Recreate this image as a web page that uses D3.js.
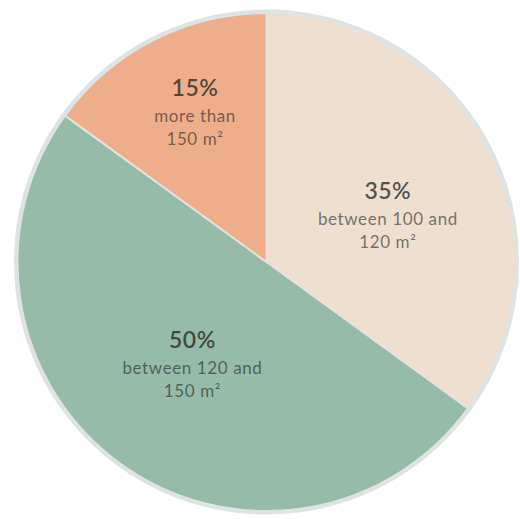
<!DOCTYPE html>
<html>
<head>
<meta charset="utf-8">
<script src="https://cdn.jsdelivr.net/npm/d3@7"></script>
<style>
  body { margin: 0; background: #fff; }
  svg { display: block; }
</style>
</head>
<body>
<svg width="520" height="519"></svg>
<script>
// data
const shares = [35, 50, 15];
const percentLabels = ['35%', '50%', '15%'];
const subLabels = [
  ['between 100 and', '120 m²'],
  ['between 120 and', '150 m²'],
  ['more than', '150 m²']
];
const colors = ['#eedfcf', '#96bba8', '#efae8b'];

const svg = d3.select('svg');
const cx = 266.5, cy = 262, radius = 249;

// where each label sits (radius from centre, angle shift in degrees, extra y)
const labelPlace = [{r: 130, da: 6, dy: 4}, {r: 126, da: 0, dy: 4}, {r: 163, da: 1, dy: 1}];

const pie = d3.pie().sort(null).value(d => d);
const arcs = pie(shares);
const arc = d3.arc().innerRadius(0).outerRadius(radius);

const g = svg.append('g').attr('transform', `translate(${cx},${cy})`);

// outer ring
g.append('circle')
  .attr('r', radius + 1)
  .attr('fill', 'none')
  .attr('stroke', '#dde3e3')
  .attr('stroke-width', 5);

g.selectAll('path.slice')
  .data(arcs)
  .enter()
  .append('path')
  .attr('class', 'slice')
  .attr('d', arc)
  .attr('fill', (d, i) => colors[i])
  .attr('stroke', '#e2e2e0')
  .attr('stroke-width', 2);

//labels
const labels = g.selectAll('g.label')
  .data(arcs)
  .enter()
  .append('g')
  .attr('class', 'label')
  .attr('transform', (d, i) => {
    const a = (d.startAngle + d.endAngle) / 2 + labelPlace[i].da * Math.PI / 180;
    const r = labelPlace[i].r;
    return `translate(${r * Math.sin(a)},${-r * Math.cos(a) + labelPlace[i].dy})`;
  })
  .attr('font-family', 'Lato, "Open Sans", sans-serif')
  .attr('text-anchor', 'middle');

labels.append('text')
  .attr('y', -20)
  .attr('font-size', 23)
  .attr('font-weight', 600)
  .attr('letter-spacing', 0.5)
  .attr('fill', '#222')
  .attr('fill-opacity', 0.75)
  .text((d, i) => percentLabels[i]);

labels.each(function(d, i) {
  const t = d3.select(this).append('text')
    .attr('font-size', 17)
    .attr('letter-spacing', 0.6)
    .attr('fill', '#222')
    .attr('fill-opacity', 0.6);
  subLabels[i].forEach((line, j) => {
    t.append('tspan')
      .attr('x', 0)
      .attr('y', 6 + j * 23)
      .text(line);
  });
});
</script>
</body>
</html>
